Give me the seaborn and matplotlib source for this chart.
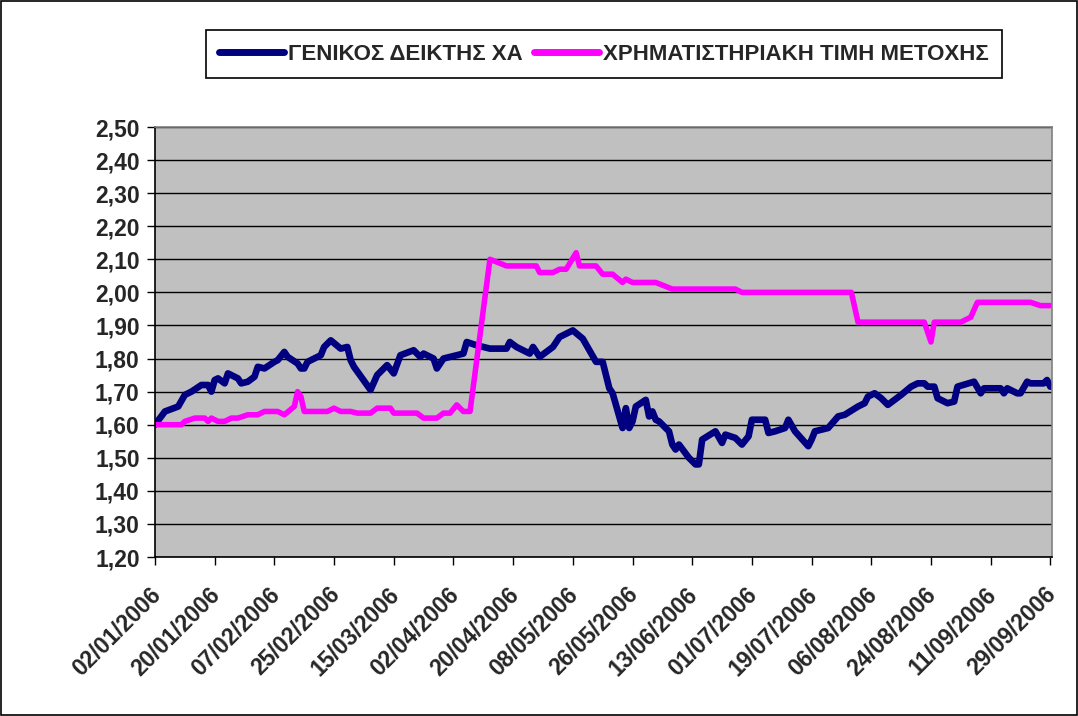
import pandas as pd
import numpy as np
import matplotlib
matplotlib.use('Agg')
import matplotlib.pyplot as plt
import matplotlib.dates as mdates
from matplotlib.ticker import FuncFormatter
from matplotlib.patches import Rectangle
from matplotlib.transforms import ScaledTranslation
import seaborn as sns

# Series names (legend)
name_index = 'ΓΕΝΙΚΟΣ ΔΕΙΚΤΗΣ ΧΑ'
name_price = 'ΧΡΗΜΑΤΙΣΤΗΡΙΑΚΗ ΤΙΜΗ ΜΕΤΟΧΗΣ'

start = pd.Timestamp('2006-01-02')

# General index (rebased), days counted from 02/01/2006
index_days = [0, 3, 7, 9, 11, 14, 16, 17, 18, 19,
              21, 22, 25, 26, 28, 30, 31, 33, 36, 37,
              39, 40, 43, 44, 45, 46, 50, 51, 53, 56,
              58, 59, 60, 65, 67, 70, 72, 74, 78, 80,
              81, 84, 85, 87, 91, 93, 94, 97, 101, 106,
              107, 109, 113, 114, 116, 120, 122, 126, 129, 131,
              133, 135, 137, 138, 141, 142, 143, 144, 145, 148,
              149, 150, 151, 152, 155, 156, 157, 158, 161, 163,
              164, 165, 169, 171, 172, 175, 177, 179, 180, 184,
              185, 187, 190, 191, 193, 197, 198, 199, 201, 203,
              206, 208, 212, 214, 215, 217, 219, 221, 225, 228,
              230, 232, 233, 235, 236, 239, 241, 242, 247, 249,
              250, 255, 256, 257, 260, 261, 263, 264, 268, 269,
              270]
index_vals = [1.60, 1.64, 1.655, 1.69, 1.70, 1.72, 1.72, 1.70, 1.735, 1.74,
              1.725, 1.755, 1.74, 1.725, 1.73, 1.745, 1.775, 1.77, 1.79, 1.795,
              1.82, 1.805, 1.785, 1.77, 1.77, 1.79, 1.81, 1.835, 1.855, 1.83,
              1.835, 1.795, 1.775, 1.705, 1.75, 1.78, 1.755, 1.81, 1.825, 1.805,
              1.815, 1.80, 1.77, 1.80, 1.81, 1.815, 1.85, 1.84, 1.83, 1.83,
              1.85, 1.835, 1.815, 1.835, 1.805, 1.835, 1.865, 1.885, 1.86, 1.825,
              1.79, 1.79, 1.71, 1.695, 1.59, 1.65, 1.59, 1.61, 1.655, 1.675,
              1.625, 1.64, 1.615, 1.61, 1.58, 1.54, 1.525, 1.54, 1.50, 1.48,
              1.48, 1.555, 1.58, 1.545, 1.57, 1.56, 1.54, 1.565, 1.615, 1.615,
              1.575, 1.58, 1.59, 1.615, 1.58, 1.535, 1.555, 1.58, 1.585, 1.59,
              1.625, 1.63, 1.655, 1.665, 1.685, 1.695, 1.68, 1.66, 1.69, 1.715,
              1.725, 1.725, 1.715, 1.715, 1.68, 1.665, 1.67, 1.715, 1.73, 1.695,
              1.71, 1.71, 1.695, 1.71, 1.695, 1.695, 1.73, 1.725, 1.725, 1.735,
              1.715]

# Share price
price_days = [0, 8, 9, 12, 15, 16, 17, 19, 21, 23,
              25, 28, 31, 33, 37, 39, 42, 43, 44, 45,
              52, 54, 56, 59, 61, 65, 67, 71, 72, 79,
              81, 85, 87, 89, 91, 93, 95, 101, 106, 115,
              116, 120, 122, 124, 127, 128, 133, 135, 138, 141,
              142, 144, 151, 156, 175, 177, 210, 212, 232, 234,
              235, 243, 246, 248, 264, 267, 270]
price_vals = [1.60, 1.60, 1.61, 1.62, 1.62, 1.61, 1.62, 1.61, 1.61, 1.62,
              1.62, 1.63, 1.63, 1.64, 1.64, 1.63, 1.655, 1.70, 1.685, 1.64,
              1.64, 1.65, 1.64, 1.64, 1.635, 1.635, 1.65, 1.65, 1.635, 1.635,
              1.62, 1.62, 1.635, 1.635, 1.66, 1.64, 1.64, 2.10, 2.08, 2.08,
              2.06, 2.06, 2.07, 2.07, 2.12, 2.08, 2.08, 2.055, 2.055, 2.03,
              2.04, 2.03, 2.03, 2.01, 2.01, 2.00, 2.00, 1.91, 1.91, 1.85,
              1.91, 1.91, 1.925, 1.97, 1.97, 1.96, 1.96]

y_ticks = [1.20, 1.30, 1.40, 1.50, 1.60, 1.70, 1.80, 1.90, 2.00, 2.10, 2.20, 2.30, 2.40, 2.50]

df = pd.concat([
    pd.DataFrame({'Date': start + pd.to_timedelta(index_days, unit='D'),
                  'Value': index_vals, 'Series': name_index}),
    pd.DataFrame({'Date': start + pd.to_timedelta(price_days, unit='D'),
                  'Value': price_vals, 'Series': name_price}),
], ignore_index=True)

sns.set_theme(style='white')
plt.rcParams['font.family'] = ['Liberation Sans', 'DejaVu Sans']

fig = plt.figure(figsize=(10.78, 7.16), dpi=100)
ax = fig.add_axes([155 / 1078, 1 - 557 / 716, (1052 - 155) / 1078, (557 - 127) / 716])
ax.set_facecolor('#C0C0C0')

sns.lineplot(data=df, x='Date', y='Value', hue='Series', estimator=None, sort=False,
             palette={name_index: '#000080', name_price: '#FF00FF'}, ax=ax)
for line, lw in zip(ax.lines, [4.8, 4.0]):
    line.set_linewidth(lw)
    line.set_solid_capstyle('round')
    line.set_solid_joinstyle('round')

ax.set_ylim(1.20, 2.50)
ax.set_yticks(y_ticks)
ax.yaxis.set_major_formatter(FuncFormatter(lambda v, p: f'{v:.2f}'.replace('.', ',')))
ax.yaxis.grid(True, color='black', linewidth=1)
ax.set_axisbelow(True)

x_ticks = pd.date_range(start, '2006-09-29', freq='18D')
ax.set_xlim(start, pd.Timestamp('2006-09-29') + pd.Timedelta(hours=12))
ax.set_xticks(x_ticks)
ax.xaxis.set_major_formatter(mdates.DateFormatter('%d/%m/%Y'))
ax.set_xlabel('')
ax.set_ylabel('')

ax.tick_params(axis='both', direction='out', length=6, width=1, color='black',
               labelsize=16.5, left=True, bottom=True)
ax.tick_params(axis='y', pad=5)
ax.tick_params(axis='x', pad=9)
for lab in ax.get_yticklabels():
    lab.set_fontweight('bold')
shift = ScaledTranslation(-6 / 100, -5 / 100, fig.dpi_scale_trans)
for lab in ax.get_xticklabels():
    lab.set_fontweight('bold')
    lab.set_rotation(45)
    lab.set_ha('right')
    lab.set_va('top')
    lab.set_rotation_mode('anchor')
    lab.set_transform(lab.get_transform() + shift)

for side in ['left', 'bottom']:
    ax.spines[side].set_color('black')
    ax.spines[side].set_linewidth(1.2)
for side in ['top', 'right']:
    ax.spines[side].set_color('#808080')
    ax.spines[side].set_linewidth(1.2)

sns.move_legend(ax, 'center', bbox_to_anchor=(604 / 1078, 1 - 54 / 716),
                bbox_transform=fig.transFigure, ncol=2, title=None, frameon=True,
                fancybox=False, edgecolor='black', framealpha=1,
                prop={'family': ['Liberation Sans Narrow', 'Liberation Sans'],
                      'weight': 'bold', 'size': 16},
                handlelength=2.9, handletextpad=0.2, columnspacing=0.5,
                borderpad=0.6, borderaxespad=0)
leg = ax.get_legend()
leg.get_frame().set_linewidth(1.2)
for h in leg.legend_handles:
    h.set_linewidth(5)
    h.set_solid_capstyle('round')

fig.patches.append(Rectangle((0.001, 0.002), 0.998, 0.996, transform=fig.transFigure,
                             fill=False, edgecolor='black', linewidth=1.2))

fig.savefig('out.png', dpi=100)
